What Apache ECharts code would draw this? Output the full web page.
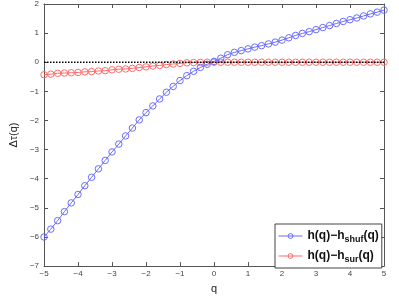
<!DOCTYPE html>
<html><head><meta charset="utf-8">
<script src="https://cdn.jsdelivr.net/npm/echarts@6/dist/echarts.min.js"></script>
<style>html,body{margin:0;padding:0;background:#fff}#c{width:399px;height:299px}</style>
</head><body><div id="c"></div>
<script>
const q = [-5,-4.8,-4.6,-4.4,-4.2,-4,-3.8,-3.6,-3.4,-3.2,-3,-2.8,-2.6,-2.4,-2.2,-2,-1.8,-1.6,-1.4,-1.2,-1,-0.8,-0.6,-0.4,-0.2,0,0.2,0.4,0.6,0.8,1,1.2,1.4,1.6,1.8,2,2.2,2.4,2.6,2.8,3,3.2,3.4,3.6,3.8,4,4.2,4.4,4.6,4.8,5];
const hShuf = [-6.00,-5.73,-5.44,-5.13,-4.83,-4.54,-4.24,-3.95,-3.66,-3.37,-3.08,-2.81,-2.53,-2.26,-1.98,-1.73,-1.50,-1.26,-1.03,-0.83,-0.63,-0.46,-0.31,-0.18,-0.07,0.03,0.14,0.26,0.34,0.40,0.46,0.52,0.57,0.63,0.69,0.76,0.84,0.92,0.99,1.05,1.12,1.19,1.26,1.33,1.40,1.46,1.52,1.59,1.66,1.72,1.79];
const hSur = [-0.43,-0.41,-0.38,-0.37,-0.36,-0.35,-0.33,-0.32,-0.30,-0.29,-0.26,-0.24,-0.23,-0.21,-0.18,-0.16,-0.13,-0.11,-0.08,-0.06,-0.04,-0.02,-0.01,-0.005,0,0,0,0,0,0,0,0,0,0,0,0,0,0,0,0,0,0,0,0,0,0,0,0,0,0,0];
const xTicks = [-5,5,1];
const yTicks = [-7,2,1];
const names = ['h(q)−h_shuf(q)','h(q)−h_sur(q)'];

const chart = echarts.init(document.getElementById('c'), null, {renderer:'canvas'});
const fmt = v => (v < 0 ? '−' + Math.abs(v) : String(v));
const axisCommon = {
  axisLine:{show:true, onZero:false, lineStyle:{color:'#555', width:1}},
  axisTick:{show:true, inside:true, length:4, lineStyle:{color:'#555'}},
  splitLine:{show:false}
};
const pair = (a,b) => a.map((v,i)=>[v,b[i]]);
const blue = '#6b6bff', red = '#ff6b6b';
chart.setOption({
  animation:false,
  textStyle:{fontFamily:'Liberation Sans, Arial, sans-serif'},
  grid:{left:43, right:15, top:4, bottom:26},
  xAxis:[
    Object.assign({type:'value', min:xTicks[0], max:xTicks[1], interval:xTicks[2], position:'bottom',
      name:'q', nameLocation:'middle', nameGap:13, nameTextStyle:{fontSize:11, color:'#222'},
      axisLabel:{fontSize:8, color:'#444', margin:4, formatter:fmt}}, axisCommon),
    Object.assign({type:'value', min:xTicks[0], max:xTicks[1], interval:xTicks[2], position:'top',
      axisLabel:{show:false}}, axisCommon)
  ],
  yAxis:[
    Object.assign({type:'value', min:yTicks[0], max:yTicks[1], interval:yTicks[2], position:'left',
      name:'Δτ(q)', nameLocation:'middle', nameGap:25, nameRotate:90, nameTextStyle:{fontSize:11, color:'#222'},
      axisLabel:{fontSize:8, color:'#444', margin:5, formatter:fmt}}, axisCommon),
    Object.assign({type:'value', min:yTicks[0], max:yTicks[1], interval:yTicks[2], position:'right',
      axisLabel:{show:false}}, axisCommon)
  ],
  legend:{
    orient:'vertical', left:275, top:224,
    data:names,
    backgroundColor:'#fff', borderColor:'#444', borderWidth:1, borderRadius:0,
    padding:[4,3,4,3], itemGap:4, itemWidth:24, itemHeight:6,
    itemStyle:{borderWidth:1, color:'rgba(0,0,0,0)'},
    lineStyle:{width:1},
    formatter: n => {
      const p = n.split('_');
      const sub = p[1].replace('(q)','');
      return '{a|' + p[0] + '}{s|' + sub + '}{a|(q)}';
    },
    textStyle:{
      color:'#111',
      rich:{
        a:{fontSize:12, fontWeight:'bold', color:'#111', lineHeight:16, verticalAlign:'middle'},
        s:{fontSize:9, fontWeight:'bold', color:'#111', verticalAlign:'bottom', lineHeight:10, padding:[7,0,0,0]}
      }
    }
  },
  series:[
    {name:names[0], type:'line', data:pair(q,hShuf), symbol:'circle', symbolSize:6.5,
      itemStyle:{color:'rgba(0,0,0,0)', borderColor:blue, borderWidth:1},
      lineStyle:{color:blue, width:1}, z:3},
    {name:names[1], type:'line', data:pair(q,hSur), symbol:'circle', symbolSize:6.5,
      itemStyle:{color:'rgba(0,0,0,0)', borderColor:red, borderWidth:1},
      lineStyle:{color:red, width:1}, z:2},
    {name:'zero', type:'line', data:[[xTicks[0],0],[xTicks[1],0]], symbol:'none',
      lineStyle:{color:'#000', width:1.5, type:[1.5,1.5]}, z:10, zlevel:0, silent:true}
  ]
});
</script></body></html>
